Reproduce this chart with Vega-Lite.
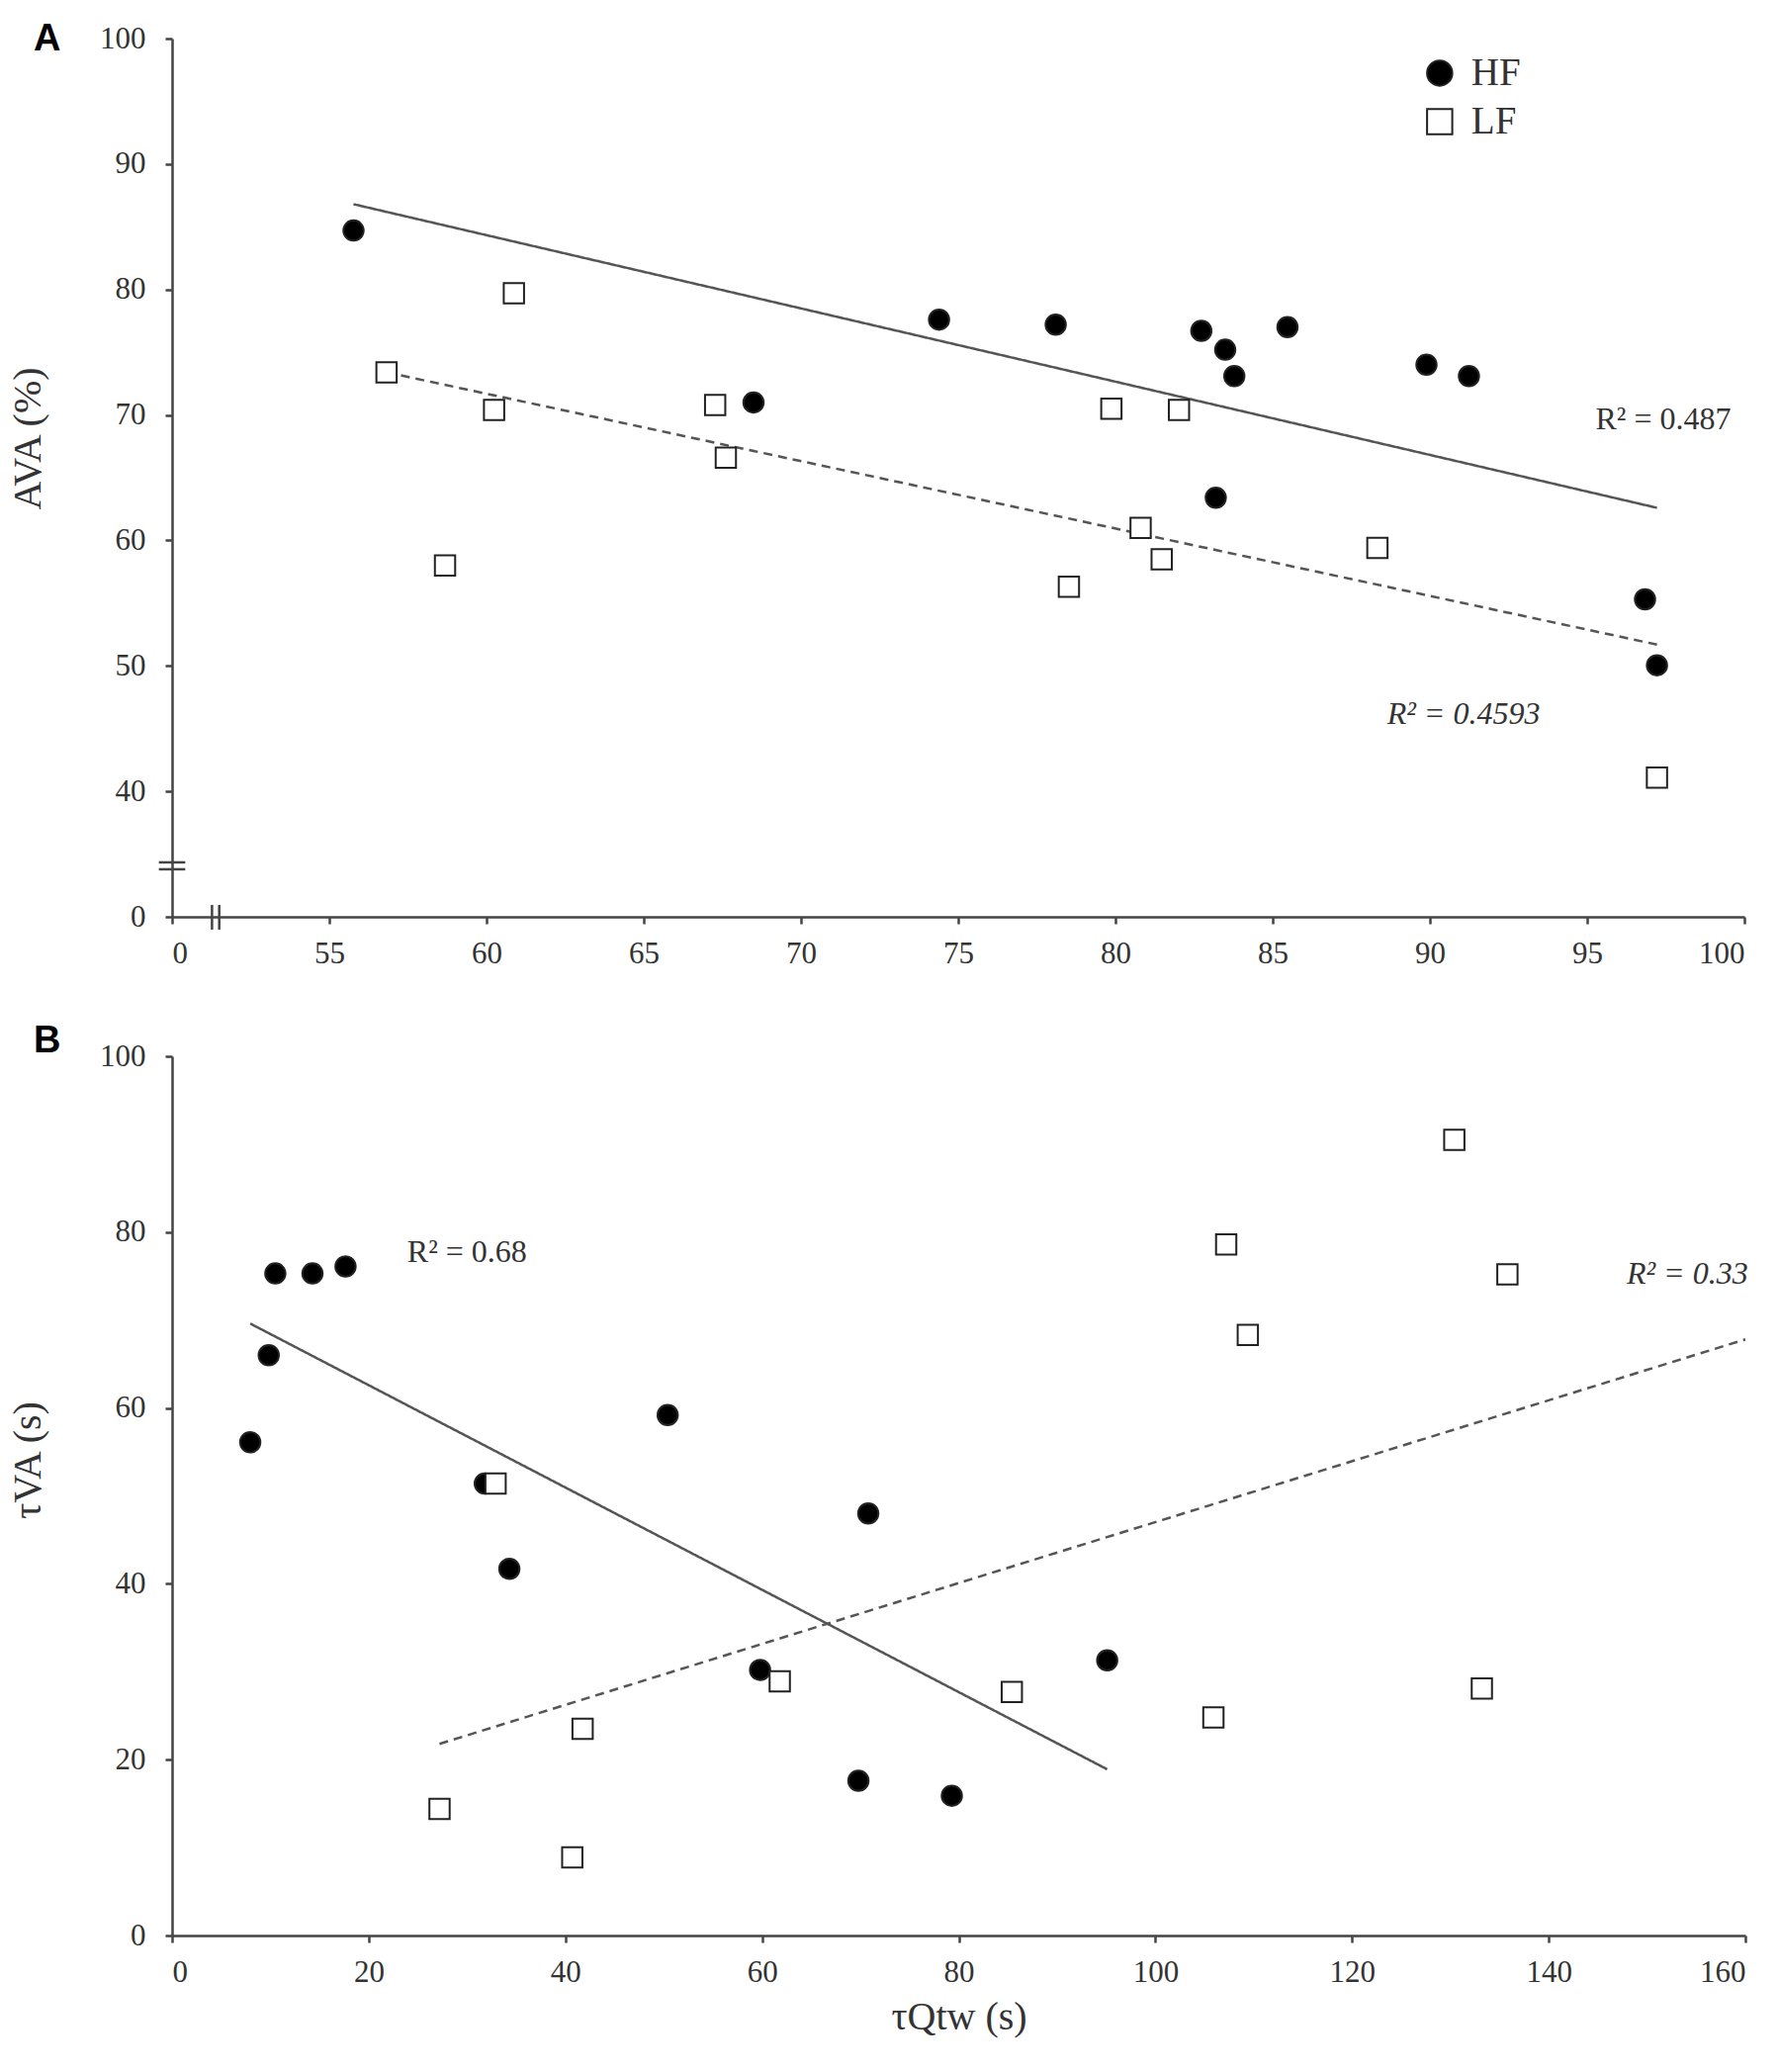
{
  "$schema": "https://vega.github.io/schema/vega-lite/v6.json",
  "background": "white",
  "padding": {"left": 8, "top": 21, "right": 5, "bottom": 5},
  "datasets": {
    "pointsA": [
      {"x": 55.77, "y": 84.7, "g": "HF"}, {"x": 68.49, "y": 71.0, "g": "HF"},
      {"x": 74.39, "y": 77.6, "g": "HF"}, {"x": 78.1, "y": 77.2, "g": "HF"},
      {"x": 82.73, "y": 76.7, "g": "HF"}, {"x": 83.49, "y": 75.2, "g": "HF"},
      {"x": 83.78, "y": 73.1, "g": "HF"}, {"x": 85.47, "y": 77.0, "g": "HF"},
      {"x": 83.19, "y": 63.4, "g": "HF"}, {"x": 89.89, "y": 74.0, "g": "HF"},
      {"x": 91.24, "y": 73.1, "g": "HF"}, {"x": 96.84, "y": 55.3, "g": "HF"},
      {"x": 97.22, "y": 50.05, "g": "HF"},
      {"x": 56.82, "y": 73.4, "g": "LF"}, {"x": 60.87, "y": 79.7, "g": "LF"},
      {"x": 60.24, "y": 70.4, "g": "LF"}, {"x": 58.68, "y": 58.0, "g": "LF"},
      {"x": 67.27, "y": 70.8, "g": "LF"}, {"x": 67.61, "y": 66.6, "g": "LF"},
      {"x": 79.87, "y": 70.5, "g": "LF"}, {"x": 82.02, "y": 70.4, "g": "LF"},
      {"x": 80.8, "y": 61.0, "g": "LF"}, {"x": 81.47, "y": 58.5, "g": "LF"},
      {"x": 78.52, "y": 56.3, "g": "LF"}, {"x": 88.33, "y": 59.4, "g": "LF"},
      {"x": 97.22, "y": 41.1, "g": "LF"}
    ],
    "linesA": [
      {"x": 55.77, "y": 86.8, "g": "HF"}, {"x": 97.22, "y": 62.6, "g": "HF"},
      {"x": 56.82, "y": 73.4, "g": "LF"}, {"x": 97.22, "y": 51.7, "g": "LF"}
    ],
    "labelsA": [
      {"x": 97.42, "y": 69.65, "t": "R² = 0.487", "g": "HF"},
      {"x": 91.07, "y": 46.16, "t": "R² = 0.4593", "g": "LF"}
    ],
    "keyA": [
      {"x": 90.31, "y": 97.25, "g": "HF"},
      {"x": 90.31, "y": 93.38, "g": "LF"}
    ],
    "breaksA": [
      {"x": 49.58, "x2": 50.42, "y": 34.34, "y2": 34.34},
      {"x": 49.58, "x2": 50.42, "y": 33.79, "y2": 33.79},
      {"x": 51.27, "x2": 51.27, "y": 28.98, "y2": 30.95},
      {"x": 51.5, "x2": 51.5, "y": 28.98, "y2": 30.95}
    ],
    "pointsB": [
      {"x": 7.95, "y": 56.1, "g": "HF"}, {"x": 9.83, "y": 66.0, "g": "HF"},
      {"x": 10.5, "y": 75.3, "g": "HF"}, {"x": 14.28, "y": 75.3, "g": "HF"},
      {"x": 17.64, "y": 76.1, "g": "HF"}, {"x": 31.8, "y": 51.4, "g": "HF"},
      {"x": 34.3, "y": 41.7, "g": "HF"}, {"x": 50.4, "y": 59.2, "g": "HF"},
      {"x": 59.8, "y": 30.2, "g": "HF"}, {"x": 70.8, "y": 48.0, "g": "HF"},
      {"x": 69.8, "y": 17.6, "g": "HF"}, {"x": 79.3, "y": 15.9, "g": "HF"},
      {"x": 95.1, "y": 31.3, "g": "HF"},
      {"x": 27.2, "y": 14.4, "g": "LF"}, {"x": 32.9, "y": 51.4, "g": "LF"},
      {"x": 41.75, "y": 23.5, "g": "LF"}, {"x": 40.7, "y": 8.9, "g": "LF"},
      {"x": 61.8, "y": 28.9, "g": "LF"}, {"x": 85.4, "y": 27.7, "g": "LF"},
      {"x": 105.9, "y": 24.8, "g": "LF"}, {"x": 107.2, "y": 78.6, "g": "LF"},
      {"x": 109.4, "y": 68.3, "g": "LF"}, {"x": 130.4, "y": 90.5, "g": "LF"},
      {"x": 135.8, "y": 75.2, "g": "LF"}, {"x": 133.2, "y": 28.1, "g": "LF"}
    ],
    "linesB": [
      {"x": 7.95, "y": 69.6, "g": "HF"}, {"x": 95.1, "y": 18.9, "g": "HF"},
      {"x": 27.2, "y": 21.8, "g": "LF"}, {"x": 160, "y": 67.8, "g": "LF"}
    ],
    "labelsB": [
      {"x": 30.0, "y": 77.7, "t": "R² = 0.68", "g": "HF"},
      {"x": 154.1, "y": 75.3, "t": "R² = 0.33", "g": "LF"}
    ]
  },
  "vconcat": [
    {
      "title": {"text": "A", "dx": -140, "dy": 13, "offset": -53, "baseline": "alphabetic"},
      "width": 1590,
      "height": 888,
      "encoding": {
        "x": {"field": "x", "type": "quantitative",
              "scale": {"domain": [50, 100], "nice": false, "zero": false},
              "axis": {"values": [50, 55, 60, 65, 70, 75, 80, 85, 90, 95, 100],
                       "labelExpr": "datum.value == 50 ? '0' : datum.label", "title": null}},
        "y": {"field": "y", "type": "quantitative",
              "scale": {"domain": [30, 100], "nice": false, "zero": false},
              "axis": {"values": [30, 40, 50, 60, 70, 80, 90, 100],
                       "labelExpr": "datum.value == 30 ? '0' : datum.label",
                       "title": "AVA (%)", "titleY": 404}}
      },
      "layer": [
        {
          "data": {"name": "linesA"},
          "mark": {"type": "line", "color": "#555", "strokeWidth": 2.5},
          "encoding": {
            "detail": {"field": "g"},
            "strokeDash": {"field": "g", "type": "nominal",
                           "scale": {"domain": ["HF", "LF"], "range": [[1, 0], [9, 6]]}, "legend": null}
          }
        },
        {
          "data": {"name": "pointsA"},
          "mark": {"type": "point", "filled": true, "stroke": "#222", "strokeWidth": 2, "size": 420, "opacity": 1},
          "encoding": {
            "color": {"field": "g", "type": "nominal",
                      "scale": {"domain": ["HF", "LF"], "range": ["black", "white"]}, "legend": null},
            "shape": {"field": "g", "type": "nominal",
                      "scale": {"domain": ["HF", "LF"], "range": ["circle", "square"]}, "legend": null}
          }
        },
        {
          "data": {"name": "keyA"},
          "mark": {"type": "point", "filled": true, "stroke": "#222", "strokeWidth": 2, "size": 650, "opacity": 1},
          "encoding": {
            "color": {"field": "g", "type": "nominal", "legend": null},
            "shape": {"field": "g", "type": "nominal", "legend": null}
          }
        },
        {
          "data": {"name": "keyA"},
          "mark": {"type": "text", "font": "Liberation Serif", "fontSize": 39, "color": "#333", "align": "left", "baseline": "middle", "dx": 32},
          "encoding": {"text": {"field": "g"}}
        },
        {
          "data": {"name": "labelsA"},
          "transform": [{"filter": "datum.g == 'HF'"}],
          "mark": {"type": "text", "font": "Liberation Serif", "fontSize": 32, "color": "#333", "baseline": "middle"},
          "encoding": {"text": {"field": "t"}}
        },
        {
          "data": {"name": "labelsA"},
          "transform": [{"filter": "datum.g == 'LF'"}],
          "mark": {"type": "text", "font": "Liberation Serif", "fontSize": 32, "fontStyle": "italic", "color": "#333", "baseline": "middle"},
          "encoding": {"text": {"field": "t"}}
        },
        {
          "data": {"name": "breaksA"},
          "mark": {"type": "rule", "color": "#444", "strokeWidth": 2.5, "clip": false},
          "encoding": {
            "x2": {"field": "x2"},
            "y2": {"field": "y2"}
          }
        }
      ]
    },
    {
      "title": {"text": "B", "dx": -140, "dy": 5, "offset": -45, "baseline": "alphabetic"},
      "width": 1591,
      "height": 889,
      "encoding": {
        "x": {"field": "x", "type": "quantitative",
              "scale": {"domain": [0, 160], "nice": false},
              "axis": {"values": [0, 20, 40, 60, 80, 100, 120, 140, 160], "title": "τQtw (s)"}},
        "y": {"field": "y", "type": "quantitative",
              "scale": {"domain": [0, 100], "nice": false},
              "axis": {"values": [0, 20, 40, 60, 80, 100], "title": "τVA (s)", "titleY": 408}}
      },
      "layer": [
        {
          "data": {"name": "linesB"},
          "mark": {"type": "line", "color": "#555", "strokeWidth": 2.5},
          "encoding": {
            "detail": {"field": "g"},
            "strokeDash": {"field": "g", "type": "nominal",
                           "scale": {"domain": ["HF", "LF"], "range": [[1, 0], [9, 6]]}, "legend": null}
          }
        },
        {
          "data": {"name": "pointsB"},
          "mark": {"type": "point", "filled": true, "stroke": "#222", "strokeWidth": 2, "size": 420, "opacity": 1},
          "encoding": {
            "color": {"field": "g", "type": "nominal",
                      "scale": {"domain": ["HF", "LF"], "range": ["black", "white"]}, "legend": null},
            "shape": {"field": "g", "type": "nominal",
                      "scale": {"domain": ["HF", "LF"], "range": ["circle", "square"]}, "legend": null}
          }
        },
        {
          "data": {"name": "labelsB"},
          "transform": [{"filter": "datum.g == 'HF'"}],
          "mark": {"type": "text", "font": "Liberation Serif", "fontSize": 32, "color": "#333", "baseline": "middle"},
          "encoding": {"text": {"field": "t"}}
        },
        {
          "data": {"name": "labelsB"},
          "transform": [{"filter": "datum.g == 'LF'"}],
          "mark": {"type": "text", "font": "Liberation Serif", "fontSize": 32, "fontStyle": "italic", "color": "#333", "baseline": "middle"},
          "encoding": {"text": {"field": "t"}}
        }
      ]
    }
  ],
  "spacing": 55,
  "config": {
    "view": {"stroke": null},
    "axis": {
      "grid": false,
      "domainColor": "#444",
      "domainWidth": 2.5,
      "tickColor": "#444",
      "tickWidth": 2.5,
      "tickSize": 7,
      "labelFont": "Liberation Serif",
      "labelFontSize": 31,
      "labelColor": "#333",
      "titleFont": "Liberation Serif",
      "titleFontSize": 40,
      "titleFontWeight": "normal",
      "titleColor": "#333"
    },
    "axisY": {"labelPadding": 20, "titlePadding": 52},
    "axisX": {"labelPadding": 15, "titlePadding": 10},
    "title": {"font": "Liberation Sans", "fontSize": 38, "fontWeight": "bold", "color": "black", "anchor": "start", "frame": "group"}
  }
}
